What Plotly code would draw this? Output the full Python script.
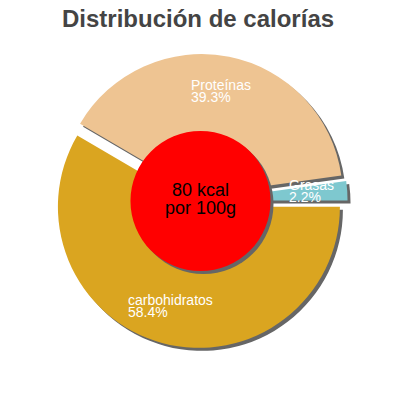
import plotly.graph_objects as go

# data
labels = ["Proteínas", "Grasas", "carbohidratos"]
percents = [39.3, 2.2, 58.4]
colors = ["#EEC492", "#7EC8CF", "#DAA520"]
center_lines = ["80 kcal", "por 100g"]
title_text = "Distribución de calorías"

W = H = 400
OFF = 8                  # page margin shifts the figure by 8px
CX, CY = 200.5 - OFF, 201 - OFF   # pie centre in px (from top)
R = 141                  # radius in px
PULL = 0.043
SH = 3                   # shadow offset px


def dom(cx, cy, half):
    return dict(x=[(cx - half) / W, (cx + half) / W],
                y=[1 - (cy + half) / H, 1 - (cy - half) / H])


half_pie = R * (1 + PULL)
common = dict(values=percents, labels=labels, sort=False, direction="clockwise",
              rotation=-59.6, pull=[PULL] * 3, textinfo="none",
              hoverinfo="skip", showlegend=False)

fig = go.Figure()

# shadow of the pie
fig.add_trace(go.Pie(domain=dom(CX + SH, CY + SH, half_pie),
                     marker=dict(colors=["#666666"] * 3, line=dict(width=0)),
                     **common))
# the pie
fig.add_trace(go.Pie(domain=dom(CX, CY, half_pie),
                     marker=dict(colors=colors, line=dict(width=0)),
                     **common))

# red centre circle with shadow
for off, col in [(SH, "#666666"), (0, "#FF0000")]:
    fig.add_trace(go.Pie(values=[1], domain=dom(CX + off, CY + off, 70),
                         marker=dict(colors=[col], line=dict(width=0)),
                         textinfo="none", hoverinfo="skip", showlegend=False,
                         sort=False))

ann = []


def txt(s, x, y, size, color, anchor="left", family="Liberation Sans"):
    ann.append(dict(text=s, x=(x - OFF) / W, y=1 - (y - OFF) / H,
                    xref="paper", yref="paper",
                    xanchor=anchor, yanchor="middle", showarrow=False,
                    font=dict(family=family, size=size, color=color)))


# slice labels (name / percent on two lines)
label_pos = [(189, 84.8), (287, 184.8), (125.7, 299.8)]
for name, pct, (lx, ly) in zip(labels, percents, label_pos):
    txt(name, lx, ly, 14, "white")
    txt(f"{pct}%", lx, ly + 12.4, 14, "white")

txt(center_lines[0], 200, 189.6, 18, "black", "center")
txt(center_lines[1], 200, 208, 18, "black", "center")

txt("<b>" + title_text + "</b>", 198, 18, 24, "#444444", "center")

fig.update_layout(width=W, height=H, margin=dict(l=0, r=0, t=0, b=0),
                  paper_bgcolor="white", plot_bgcolor="white",
                  annotations=ann)

fig.write_html("out.html")
